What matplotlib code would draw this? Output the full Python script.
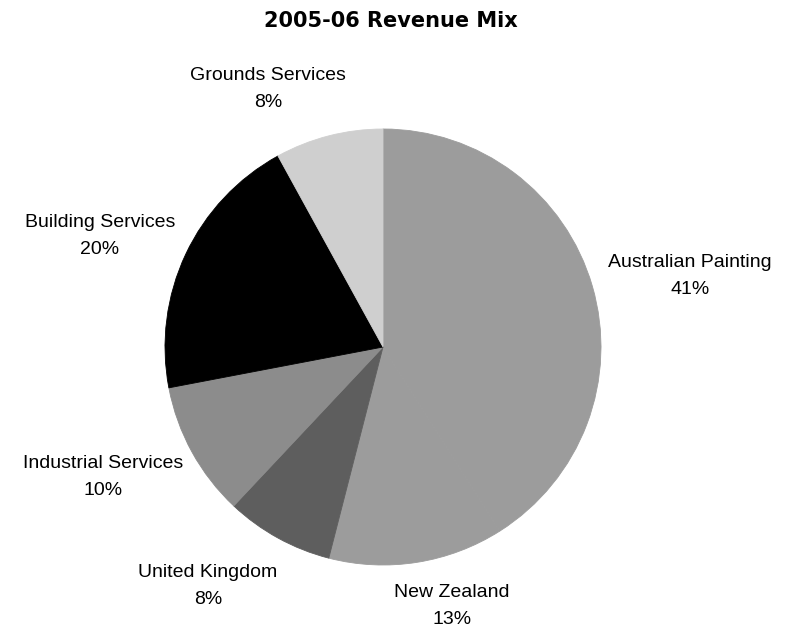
import matplotlib
matplotlib.use("Agg")
import matplotlib.pyplot as plt

categories = ["Australian Painting", "New Zealand", "United Kingdom",
              "Industrial Services", "Building Services", "Grounds Services"]
values = [41, 13, 8, 10, 20, 8]
colors = ["#9c9c9c", "#9c9c9c", "#5e5e5e", "#8c8c8c", "#000000", "#cfcfcf"]
# label centre positions in pixels (x, y from top)
label_pos = [(690, 262), (452, 592), (208, 572), (103, 463), (100, 222), (268, 75)]

W, H = 791, 634
fig = plt.figure(figsize=(W / 100, H / 100), dpi=100)
cx, cy, r = 383, 347, 218
ax = fig.add_axes([(cx - r) / W, (H - cy - r) / H, 2 * r / W, 2 * r / H])
wedges, _ = ax.pie(values, colors=colors, startangle=90, counterclock=False,
                   wedgeprops=dict(linewidth=0.6))
for w, c in zip(wedges, colors):
    w.set_edgecolor(c)
ax.set_xlim(-1, 1)
ax.set_ylim(-1, 1)
ax.set_aspect("equal")
ax.axis("off")

fig.text(391 / W, 1 - 21 / H, "2005-06 Revenue Mix", ha="center", va="center",
         fontsize=15, fontweight="bold", family="DejaVu Sans")
for name, v, (x, y) in zip(categories, values, label_pos):
    fig.text(x / W, 1 - (y + 14) / H, f"{name}\n{v}%", ha="center", va="center",
             fontsize=14, family="Liberation Sans", linespacing=1.75)

fig.savefig("out.png", dpi=100)
